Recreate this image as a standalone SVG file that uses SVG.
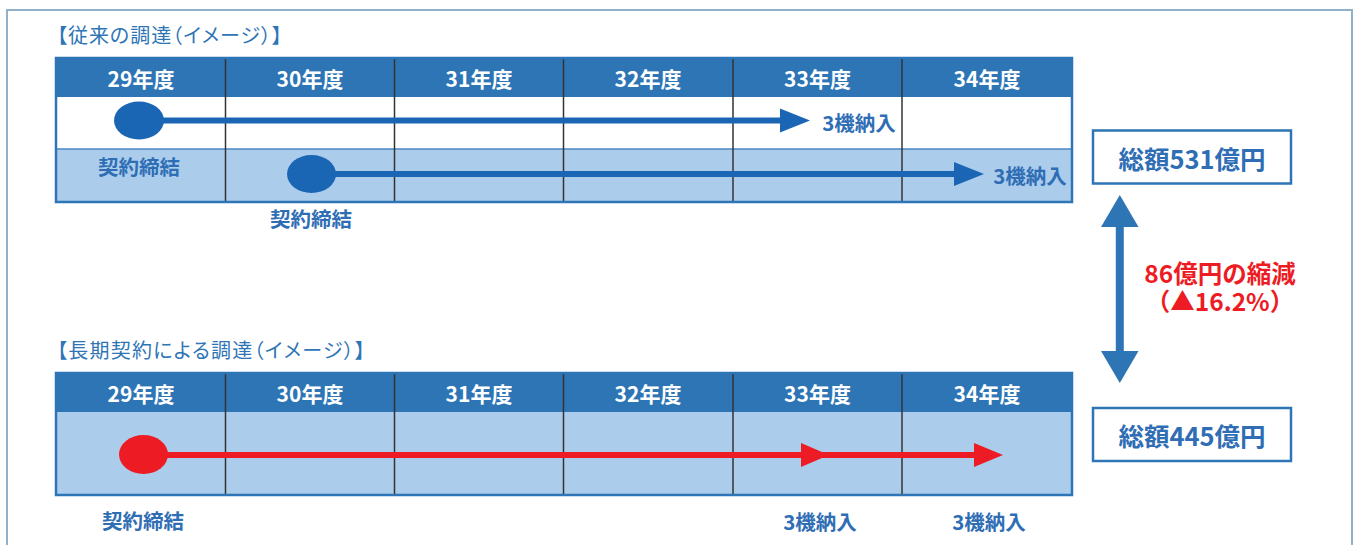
<svg xmlns="http://www.w3.org/2000/svg" width="1357" height="545" viewBox="0 0 1357 545">
<defs>
<style>
text{font-family:"Noto Sans CJK JP","Noto Sans",sans-serif;}
.title{font-size:20px;fill:#2e75b6;font-feature-settings:"palt";}
.hdr{font-size:21px;font-weight:bold;fill:#ffffff;text-anchor:middle;dominant-baseline:central;}
.lbl{font-size:20.5px;font-weight:bold;fill:#2f6eb5;text-anchor:middle;dominant-baseline:central;}
.total{font-size:25.5px;font-weight:bold;fill:#2f6eb5;text-anchor:middle;dominant-baseline:central;}
.red{font-size:24.5px;font-weight:bold;fill:#ed1c24;text-anchor:middle;dominant-baseline:central;}
.div{stroke:#333333;stroke-width:1.5;}
.tbl{fill:none;stroke:#2e75b6;stroke-width:2.5;}
.hfill{fill:#2e75b6;}
.lfill{fill:#abcdeb;}
.bline{stroke:#1a66b5;stroke-width:6;}
.rline{stroke:#ed1c24;stroke-width:6;}
.box{fill:#ffffff;stroke:#2e75b6;stroke-width:2.5;}
</style>
</defs>
<rect x="7" y="10" width="1345" height="545" fill="#ffffff" stroke="#8fb1ca" stroke-width="2"/>

<g id="title-top"><text class="title" x="57" y="43" textLength="225" lengthAdjust="spacing">【従来の調達（イメージ）】</text></g>
<g id="table-top">
<rect class="hfill" x="56" y="58" width="1016" height="39"/>
<rect x="56" y="97" width="1016" height="52" fill="#ffffff"/>
<rect class="lfill" x="56" y="149" width="1016" height="53"/>
<line x1="56" y1="149" x2="1072" y2="149" stroke="#4a86c5" stroke-width="1.5"/>
<line class="div" x1="225.5" y1="58" x2="225.5" y2="202"/>
<line class="div" x1="394.5" y1="58" x2="394.5" y2="202"/>
<line class="div" x1="563.5" y1="58" x2="563.5" y2="202"/>
<line class="div" x1="733" y1="58" x2="733" y2="202"/>
<line class="div" x1="902" y1="58" x2="902" y2="202"/>
<rect class="tbl" x="56" y="58" width="1016" height="144"/>
<text class="hdr" x="141" y="78">29年度</text>
<text class="hdr" x="310" y="78">30年度</text>
<text class="hdr" x="479" y="78">31年度</text>
<text class="hdr" x="648" y="78">32年度</text>
<text class="hdr" x="817.5" y="78">33年度</text>
<text class="hdr" x="987" y="78">34年度</text>
</g>

<g id="title-bottom"><text class="title" x="57" y="358" textLength="308" lengthAdjust="spacing">【長期契約による調達（イメージ）】</text></g>
<g id="table-bottom">
<rect class="hfill" x="56" y="373" width="1016" height="39"/>
<rect class="lfill" x="56" y="412" width="1016" height="83"/>
<line class="div" x1="225.5" y1="373" x2="225.5" y2="495"/>
<line class="div" x1="394.5" y1="373" x2="394.5" y2="495"/>
<line class="div" x1="563.5" y1="373" x2="563.5" y2="495"/>
<line class="div" x1="733" y1="373" x2="733" y2="495"/>
<line class="div" x1="902" y1="373" x2="902" y2="495"/>
<rect class="tbl" x="56" y="373" width="1016" height="122"/>
<text class="hdr" x="141" y="393">29年度</text>
<text class="hdr" x="310" y="393">30年度</text>
<text class="hdr" x="479" y="393">31年度</text>
<text class="hdr" x="648" y="393">32年度</text>
<text class="hdr" x="817.5" y="393">33年度</text>
<text class="hdr" x="987" y="393">34年度</text>
</g>

<g id="connectors">
<line class="bline" x1="150" y1="120.5" x2="782" y2="120.5"/>
<polygon points="780,108.5 810,120.5 780,132.5" fill="#1a66b5"/>
<line class="bline" x1="322" y1="174" x2="956" y2="174"/>
<polygon points="954,162 984,174 954,186" fill="#1a66b5"/>
<line class="rline" x1="155" y1="455" x2="976" y2="455"/>
<polygon points="801,443 829,455 801,467" fill="#ed1c24"/>
<polygon points="974,443 1003,455 974,467" fill="#ed1c24"/>
<rect x="1115.8" y="224" width="8" height="130" fill="#2e75b6"/>
<polygon points="1119.8,195 1138.5,227 1101,227" fill="#2e75b6"/>
<polygon points="1101,351 1138.5,351 1119.8,383" fill="#2e75b6"/>
</g>

<g id="contract-1"><ellipse cx="139" cy="120.5" rx="25" ry="19" fill="#1a66b5"/><text class="lbl" x="139" y="166">契約締結</text></g>
<g id="contract-2"><ellipse cx="311.5" cy="174" rx="24.5" ry="19" fill="#1a66b5"/><text class="lbl" x="311" y="218">契約締結</text></g>
<g id="contract-3"><ellipse cx="143.5" cy="454.5" rx="24.5" ry="19.5" fill="#ed1c24"/><text class="lbl" x="143" y="520">契約締結</text></g>
<g id="delivery-1"><text class="lbl" x="859" y="122">3機納入</text></g>
<g id="delivery-2"><text class="lbl" x="1030" y="175">3機納入</text></g>
<g id="delivery-3"><text class="lbl" x="820" y="521">3機納入</text></g>
<g id="delivery-4"><text class="lbl" x="989" y="521">3機納入</text></g>

<g id="total-531"><rect class="box" x="1093" y="130.5" width="198" height="53"/><text class="total" x="1192" y="157">総額531億円</text></g>
<g id="total-445"><rect class="box" x="1093" y="408" width="198" height="53"/><text class="total" x="1192" y="434.5">総額445億円</text></g>
<g id="reduction"><text class="red"><tspan x="1220" y="272">86億円の縮減</tspan><tspan x="1220" y="300">（▲16.2%）</tspan></text></g>
</svg>
